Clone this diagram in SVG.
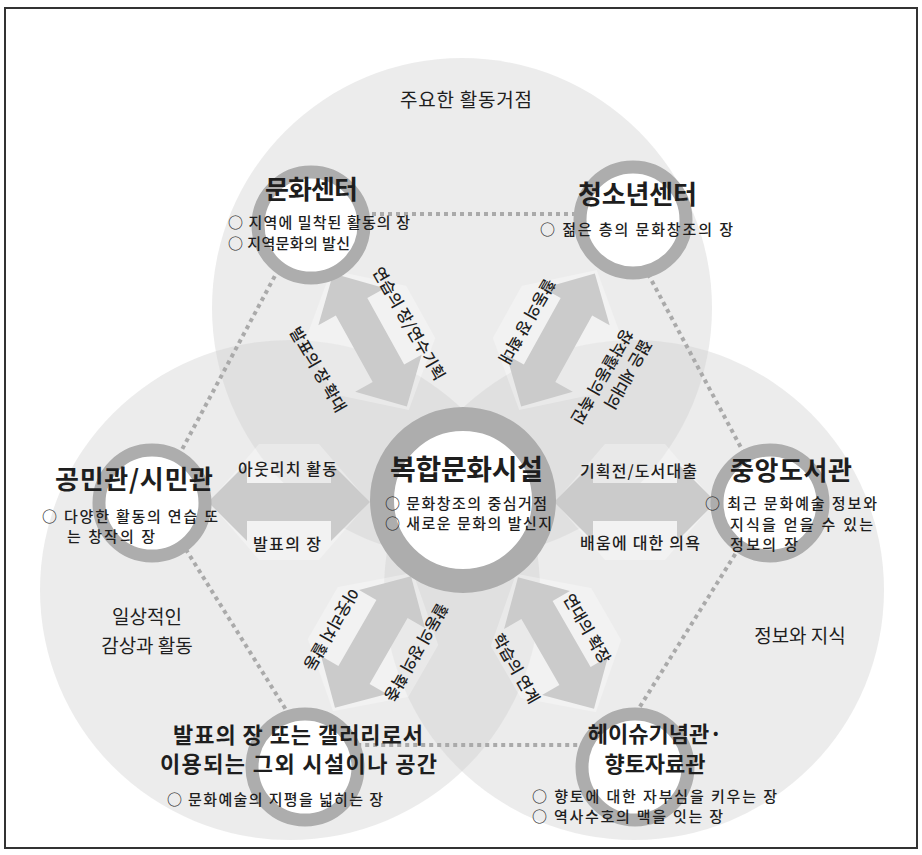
<svg xmlns="http://www.w3.org/2000/svg" width="922" height="855" viewBox="0 0 922 855">
<style>
text{font-family:"Noto Sans CJK KR","Noto Sans",sans-serif;fill:#1e1e1e}
.big{fill:#d0d0d0;fill-opacity:.4}
.ring{fill:#fff;stroke:#adadad;stroke-width:13}
.cring{fill:#fff;stroke:#adadad;stroke-width:24}
.dot{fill:none;stroke:#aaaaaa;stroke-width:4;stroke-dasharray:4 4}
.arr{fill:#cbcbcb}
.band{fill:#fff;fill-opacity:.3}
.t{font-size:26px;font-weight:700}
.b{font-size:15px;font-weight:500}
.l{font-size:16px;font-weight:500}
.r{font-size:19px;font-weight:400}
</style>
<defs>
<path id="dh" d="M-81,0 L-42,-39 L-42,-19 L42,-19 L42,-39 L81,0 L42,39 L42,19 L-42,19 L-42,39 Z"/>
<path id="dd" d="M-76,0 L-38,-38 L-38,-18 L38,-18 L38,-38 L76,0 L38,38 L38,18 L-38,18 L-38,38 Z"/>
<path id="bd" d="M-80,0 L-30,-58 L30,-58 L80,0 L30,58 L-30,58 Z"/>
</defs>
<rect x="5" y="8" width="912" height="840" fill="#fff" stroke="#333" stroke-width="2"/>
<g id="regions">
<circle class="big" cx="462" cy="308" r="250"/>
<circle class="big" cx="290" cy="590" r="250"/>
<circle class="big" cx="634" cy="590" r="250"/>
<text class="r" x="400" y="107" textLength="132" lengthAdjust="spacing">주요한 활동거점</text>
<text class="r" x="147" y="624" text-anchor="middle">일상적인</text>
<text class="r" x="147" y="653" text-anchor="middle">감상과 활동</text>
<text class="r" x="800" y="643" text-anchor="middle">정보와 지식</text>
</g>
<g id="connectors">
<polygon class="dot" points="308,214 616,214 769,500 616,745 308,745 155,500"/>
<use href="#bd" class="band" transform="translate(370,340) rotate(61)"/>
<use href="#bd" class="band" transform="translate(558,340) rotate(119)"/>
<use href="#bd" class="band" transform="translate(289,502)"/>
<use href="#bd" class="band" transform="translate(635,502)"/>
<use href="#bd" class="band" transform="translate(373,642) rotate(-60)"/>
<use href="#bd" class="band" transform="translate(556,643) rotate(60)"/>
<use href="#dd" class="arr" transform="translate(370,340) rotate(61)"/>
<use href="#dd" class="arr" transform="translate(558,340) rotate(119)"/>
<use href="#dh" class="arr" transform="translate(289,502)"/>
<use href="#dh" class="arr" transform="translate(635,502)"/>
<use href="#dd" class="arr" transform="translate(373,642) rotate(-60)"/>
<use href="#dd" class="arr" transform="translate(556,643) rotate(60)"/>
<g class="l" dominant-baseline="central" text-anchor="middle">
<text transform="translate(319,369) rotate(60)">발표의 장 확대</text>
<text transform="translate(410,323) rotate(60)">연습의 장/연수기획</text>
<text transform="translate(528,322) rotate(120)">활동의 장 확대</text>
<text transform="translate(629,375) rotate(120)">젊은 세대의</text>
<text transform="translate(603,377) rotate(120)">창작활동의 촉진</text>
<text transform="translate(332,630) rotate(120)">아웃리치 활동</text>
<text transform="translate(417,653) rotate(120)">활동의 장의 확충</text>
<text transform="translate(517,668) rotate(60)">학습의 연계</text>
<text transform="translate(588,628) rotate(60)">연대의 확장</text>
</g>
<text class="l" x="238" y="475" textLength="99" lengthAdjust="spacing">아웃리치 활동</text>
<text class="l" x="253" y="550" textLength="68" lengthAdjust="spacing">발표의 장</text>
<text class="l" x="580" y="477" textLength="117" lengthAdjust="spacing">기획전/도서대출</text>
<text class="l" x="580" y="549" textLength="120" lengthAdjust="spacing">배움에 대한 의욕</text>
</g>
<g id="center">
<circle class="cring" cx="463" cy="500" r="81"/>
<text class="t" style="font-size:28px" x="390" y="480" textLength="153" lengthAdjust="spacing">복합문화시설</text>
<text class="b" x="385" y="509" textLength="162" lengthAdjust="spacing">○ 문화창조의 중심거점</text>
<text class="b" x="385" y="529" textLength="167" lengthAdjust="spacing">○ 새로운 문화의 발신지</text>
</g>
<g id="culture-center">
<circle class="ring" cx="311" cy="225" r="53"/>
<text class="t" x="265" y="199" textLength="93" lengthAdjust="spacing">문화센터</text>
<text class="b" x="228" y="228" textLength="182" lengthAdjust="spacing">○ 지역에 밀착된 활동의 장</text>
<text class="b" x="228" y="249" textLength="122" lengthAdjust="spacing">○ 지역문화의 발신</text>
</g>
<g id="youth-center">
<circle class="ring" cx="633" cy="220" r="53"/>
<text class="t" x="578" y="204" textLength="119" lengthAdjust="spacing">청소년센터</text>
<text class="b" x="540" y="235" textLength="193" lengthAdjust="spacing">○ 젊은 층의 문화창조의 장</text>
</g>
<g id="community-hall">
<circle class="ring" cx="152" cy="503" r="53"/>
<text class="t" x="55" y="489" textLength="158" lengthAdjust="spacing">공민관/시민관</text>
<text class="b" x="42" y="522" textLength="176" lengthAdjust="spacing">○ 다양한 활동의 연습 또</text>
<text class="b" x="67" y="542" textLength="88" lengthAdjust="spacing">는 창작의 장</text>
</g>
<g id="library">
<circle class="ring" cx="770" cy="503" r="53"/>
<text class="t" x="730" y="480" textLength="122" lengthAdjust="spacing">중앙도서관</text>
<text class="b" x="705" y="509" textLength="172" lengthAdjust="spacing">○ 최근 문화예술 정보와</text>
<text class="b" x="730" y="530" textLength="143" lengthAdjust="spacing">지식을 얻을 수 있는</text>
<text class="b" x="730" y="550" textLength="68" lengthAdjust="spacing">정보의 장</text>
</g>
<g id="gallery">
<circle class="ring" cx="305" cy="767" r="53"/>
<text class="t" style="font-size:22px" x="173" y="743" textLength="250" lengthAdjust="spacing">발표의 장 또는 갤러리로서</text>
<text class="t" style="font-size:22px" x="160" y="772" textLength="277" lengthAdjust="spacing">이용되는 그외 시설이나 공간</text>
<text class="b" x="167" y="805" textLength="216" lengthAdjust="spacing">○ 문화예술의 지평을 넓히는 장</text>
</g>
<g id="memorial">
<circle class="ring" cx="635" cy="767" r="53"/>
<text class="t" style="font-size:22px" x="655" y="742" text-anchor="middle">헤이슈기념관·</text>
<text class="t" style="font-size:22px" x="655" y="772" text-anchor="middle">향토자료관</text>
<text class="b" x="532" y="802" textLength="245" lengthAdjust="spacing">○ 향토에 대한 자부심을 키우는 장</text>
<text class="b" x="532" y="822" textLength="191" lengthAdjust="spacing">○ 역사수호의 맥을 잇는 장</text>
</g>
</svg>
